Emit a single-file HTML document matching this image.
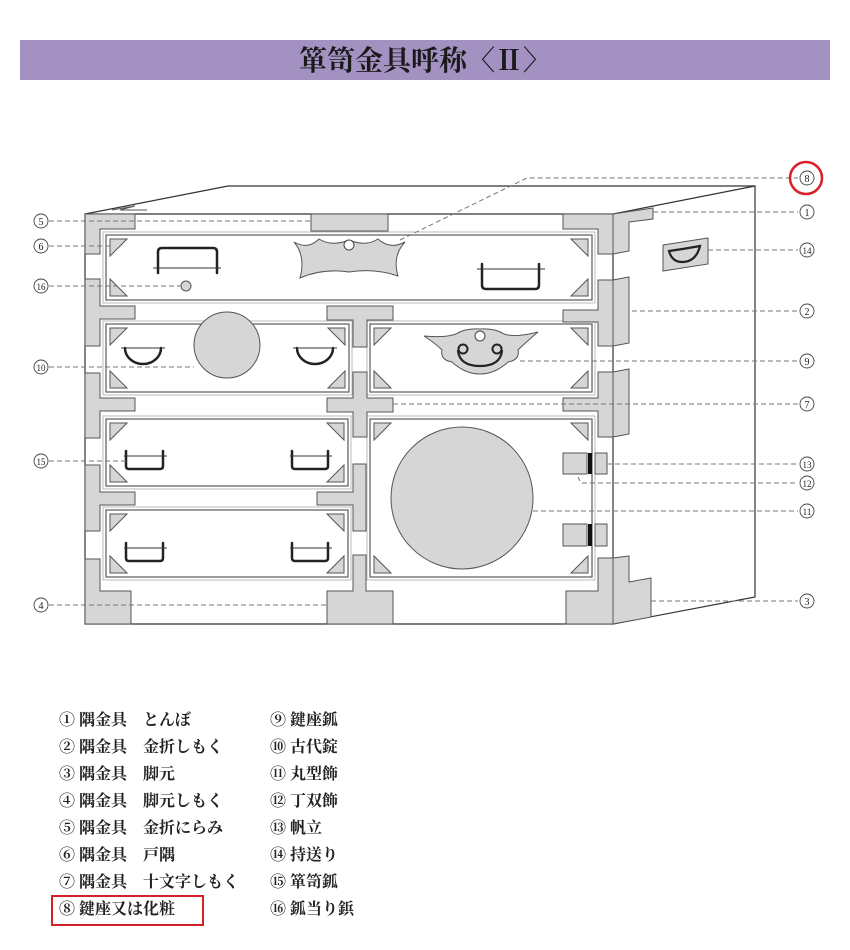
<!DOCTYPE html>
<html><head><meta charset="utf-8"><style>
html,body{margin:0;padding:0;background:#fff;}
body{width:850px;height:950px;position:relative;overflow:hidden;}
svg{position:absolute;left:0;top:0;}
</style></head><body>
<svg width="850" height="950" viewBox="0 0 850 950" xmlns="http://www.w3.org/2000/svg">
<rect x="20" y="40" width="810" height="40" fill="#a391c2"/>
<text x="425" y="70" text-anchor="middle" font-family="'Liberation Serif','Noto Serif CJK SC',serif" font-weight="bold" font-size="28" fill="#1a1a1a">箪笥金具呼称〈Ⅱ〉</text>

<g fill="none" stroke="#333" stroke-width="1.2">
<polygon points="85,214 228,186 755,186 755,597 613,624 85,624"/>
<line x1="613" y1="214" x2="613" y2="624"/>
<line x1="85" y1="214" x2="613" y2="214"/>
<line x1="613" y1="214" x2="755" y2="186"/>
</g>
<path d="M112,210 L135,206 L120,210 L147,210" fill="none" stroke="#555" stroke-width="1"/>

<g fill="none" stroke="#666" stroke-width="1.3">
<rect x="106" y="235" width="486" height="65"/><rect x="103" y="232" width="492" height="71" stroke="#aaa" stroke-width="0.8"/>
<rect x="106" y="324" width="243" height="68"/><rect x="103" y="321" width="249" height="74" stroke="#aaa" stroke-width="0.8"/>
<rect x="370" y="324" width="222" height="68"/><rect x="367" y="321" width="228" height="74" stroke="#aaa" stroke-width="0.8"/>
<rect x="106" y="419" width="242" height="67"/><rect x="103" y="416" width="248" height="73" stroke="#aaa" stroke-width="0.8"/>
<rect x="106" y="510" width="242" height="67"/><rect x="103" y="507" width="248" height="73" stroke="#aaa" stroke-width="0.8"/>
<rect x="370" y="419" width="222" height="158"/><rect x="367" y="416" width="228" height="164" stroke="#aaa" stroke-width="0.8"/>
</g>

<g fill="#d6d6d6" stroke="#555" stroke-width="1">
<polygon points="85,214 135,214 135,229 100,229 100,254 85,254"/>
<polygon points="85,279 100,279 100,306 135,306 135,319 100,319 100,346 85,346"/>
<polygon points="85,373 100,373 100,398 135,398 135,411 100,411 100,438 85,438"/>
<polygon points="85,465 100,465 100,492 135,492 135,505 100,505 100,531 85,531"/>
<polygon points="85,559 100,559 100,591 131,591 131,624 85,624"/>
<polygon points="311,214 388,214 388,231 311,231"/>
<polygon points="327,306 393,306 393,320 367,320 367,347 353,347 353,320 327,320"/>
<polygon points="353,372 367,372 367,398 393,398 393,412 367,412 367,437 353,437 353,412 327,412 327,398 353,398"/>
<polygon points="353,464 366,464 366,531 353,531 353,505 317,505 317,492 353,492"/>
<polygon points="353,555 366,555 366,591 393,591 393,624 327,624 327,591 353,591"/>
<polygon points="563,214 613,214 613,254 598,254 598,229 563,229"/>
<polygon points="613,214 653,208 653,219 629,222 629,251 613,254"/>
<polygon points="598,280 613,280 613,346 598,346 598,322 563,322 563,310 598,310"/>
<polygon points="613,280 629,277 629,343 613,346"/>
<polygon points="598,372 613,372 613,437 598,437 598,411 563,411 563,398 598,398"/>
<polygon points="613,372 629,369 629,434 613,437"/>
<polygon points="598,558 613,558 613,624 566,624 566,591 598,591"/>
<polygon points="613,558 629,556 629,582 651,578 651,617 613,624"/>
<polygon points="110,239 127,239 110,256"/><polygon points="110,296 110,279 127,296"/><polygon points="588,239 571,239 588,256"/><polygon points="588,296 588,279 571,296"/>
<polygon points="110,328 127,328 110,345"/><polygon points="110,388 110,371 127,388"/><polygon points="345,328 328,328 345,345"/><polygon points="345,388 345,371 328,388"/>
<polygon points="374,328 391,328 374,345"/><polygon points="374,388 374,371 391,388"/><polygon points="588,328 571,328 588,345"/><polygon points="588,388 588,371 571,388"/>
<polygon points="110,423 127,423 110,440"/><polygon points="110,482 110,465 127,482"/><polygon points="344,423 327,423 344,440"/><polygon points="344,482 344,465 327,482"/>
<polygon points="110,514 127,514 110,531"/><polygon points="110,573 110,556 127,573"/><polygon points="344,514 327,514 344,531"/><polygon points="344,573 344,556 327,573"/>
<polygon points="374,423 391,423 374,440"/><polygon points="374,573 374,556 391,573"/><polygon points="588,423 571,423 588,440"/><polygon points="588,573 588,556 571,573"/>
<circle cx="227" cy="345" r="33"/>
<circle cx="462" cy="498" r="71"/>
<circle cx="186" cy="286" r="5"/>
<rect x="563" y="453" width="24" height="21"/><rect x="595" y="453" width="12" height="21"/>
<rect x="563" y="524" width="24" height="22"/><rect x="595" y="524" width="12" height="22"/>
<polygon points="663,245 708,238 708,264 663,271"/>
<path d="M294,242 Q308,250 319,239 Q332,247 349,240 Q366,247 378,239 Q390,250 405,242 Q392,256 398,276 Q375,268 349,272 Q323,268 300,278 Q306,256 294,242 Z"/>
<path d="M424,336 Q445,338 456,334 Q465,328 480,329 Q495,328 504,334 Q515,338 538,332 Q525,343 518,350 Q520,360 508,362 Q495,374 480,374 Q465,374 452,362 Q440,360 442,350 Q435,343 424,336 Z"/>
</g>
<rect x="588" y="453" width="4" height="21" fill="#111"/>
<rect x="588" y="524" width="4" height="22" fill="#111"/>
<g fill="#fff" stroke="#444" stroke-width="1">
<circle cx="349" cy="245" r="5"/><circle cx="480" cy="336" r="5"/>
</g>

<g fill="none" stroke="#222" stroke-width="2.5" stroke-linecap="round">
<path d="M158,273 L158,252 Q158,248 162,248 L213,248 Q217,248 217,252 L217,273"/>
<path d="M482,264 L482,285 Q482,289 486,289 L535,289 Q539,289 539,285 L539,264"/>
<path d="M125,348 A18,16 0 0,0 161,348"/>
<path d="M297,348 A18,16 0 0,0 333,348"/>
<path d="M126,451 L126,466 Q126,469 129,469 L160,469 Q163,469 163,466 L163,451"/>
<path d="M292,451 L292,466 Q292,469 295,469 L325,469 Q328,469 328,466 L328,451"/>
<path d="M126,543 L126,558 Q126,561 129,561 L160,561 Q163,561 163,558 L163,543"/>
<path d="M292,543 L292,558 Q292,561 295,561 L325,561 Q328,561 328,558 L328,543"/>
<path d="M669,251 Q684,249 700,246 Q696,262 682,262 Q672,262 669,251 Z" stroke-width="2.2"/>
<path d="M458,351 Q460,366 480,366 Q500,366 502,351" stroke-width="2.2"/>
<circle cx="463" cy="349" r="4.5" stroke-width="2"/><circle cx="497" cy="349" r="4.5" stroke-width="2"/>
</g>
<g stroke="#333" stroke-width="1">
<line x1="153" y1="268" x2="221" y2="268"/><line x1="477" y1="269" x2="545" y2="269"/>
<line x1="121" y1="348" x2="165" y2="348"/><line x1="293" y1="348" x2="337" y2="348"/>
<line x1="124" y1="456" x2="167" y2="456"/><line x1="290" y1="456" x2="332" y2="456"/>
<line x1="124" y1="548" x2="167" y2="548"/><line x1="290" y1="548" x2="332" y2="548"/>
</g>

<g fill="none" stroke="#777" stroke-width="1" stroke-dasharray="5,3">
<line x1="49" y1="221" x2="311" y2="221"/>
<line x1="49" y1="246" x2="110" y2="246"/>
<line x1="49" y1="286" x2="181" y2="286"/>
<line x1="49" y1="367" x2="194" y2="367"/>
<line x1="49" y1="461" x2="126" y2="461"/>
<line x1="49" y1="605" x2="327" y2="605"/>
<polyline points="400,240 527,178 798,178"/>
<line x1="653" y1="212" x2="798" y2="212"/>
<line x1="708" y1="250" x2="798" y2="250"/>
<line x1="632" y1="311" x2="798" y2="311"/>
<line x1="520" y1="361" x2="798" y2="361"/>
<line x1="393" y1="404" x2="798" y2="404"/>
<line x1="607" y1="464" x2="798" y2="464"/>
<line x1="582" y1="483" x2="798" y2="483"/>
<line x1="533" y1="511" x2="798" y2="511"/>
<line x1="651" y1="601" x2="798" y2="601"/>
</g>
<line x1="578" y1="477" x2="580" y2="481" stroke="#777"/>

<g font-family="'Liberation Serif','Noto Serif CJK SC',serif" font-size="10" fill="#222" text-anchor="middle">
<g fill="#fff" stroke="#444" stroke-width="0.9">
<circle cx="41" cy="221" r="7"/><circle cx="41" cy="246" r="7"/><circle cx="41" cy="286" r="7"/><circle cx="41" cy="367" r="7"/><circle cx="41" cy="461" r="7"/><circle cx="41" cy="605" r="7"/>
<circle cx="807" cy="178" r="7"/><circle cx="807" cy="212" r="7"/><circle cx="807" cy="250" r="7"/><circle cx="807" cy="311" r="7"/><circle cx="807" cy="361" r="7"/><circle cx="807" cy="404" r="7"/><circle cx="807" cy="464" r="7"/><circle cx="807" cy="483" r="7"/><circle cx="807" cy="511" r="7"/><circle cx="807" cy="601" r="7"/>
</g>
<text x="41" y="225">5</text><text x="41" y="250">6</text><text x="41" y="290" font-size="9">16</text><text x="41" y="371" font-size="9">10</text><text x="41" y="465" font-size="9">15</text><text x="41" y="609">4</text>
<text x="807" y="182">8</text><text x="807" y="216">1</text><text x="807" y="254" font-size="9">14</text><text x="807" y="315">2</text><text x="807" y="365">9</text><text x="807" y="408">7</text><text x="807" y="468" font-size="9">13</text><text x="807" y="487" font-size="9">12</text><text x="807" y="515" font-size="9">11</text><text x="807" y="605">3</text>
</g>
<circle cx="806" cy="178" r="16" fill="none" stroke="#d8202a" stroke-width="2.5"/>

<g font-family="'Liberation Serif','Noto Serif CJK SC',serif" font-weight="bold" font-size="16" fill="#222">
<text x="59" y="725">① 隅金具　とんぼ</text>
<text x="59" y="752">② 隅金具　金折しもく</text>
<text x="59" y="779">③ 隅金具　脚元</text>
<text x="59" y="806">④ 隅金具　脚元しもく</text>
<text x="59" y="833">⑤ 隅金具　金折にらみ</text>
<text x="59" y="860">⑥ 隅金具　戸隅</text>
<text x="59" y="887">⑦ 隅金具　十文字しもく</text>
<text x="59" y="914">⑧ 鍵座又は化粧</text>
<text x="270" y="725">⑨ 鍵座鈲</text>
<text x="270" y="752">⑩ 古代錠</text>
<text x="270" y="779">⑪ 丸型飾</text>
<text x="270" y="806">⑫ 丁双飾</text>
<text x="270" y="833">⑬ 帆立</text>
<text x="270" y="860">⑭ 持送り</text>
<text x="270" y="887">⑮ 箪笥鈲</text>
<text x="270" y="914">⑯ 鈲当り鋲</text>
</g>
<rect x="52" y="896" width="151" height="29" fill="none" stroke="#d8202a" stroke-width="2"/>
</svg>
</body></html>
